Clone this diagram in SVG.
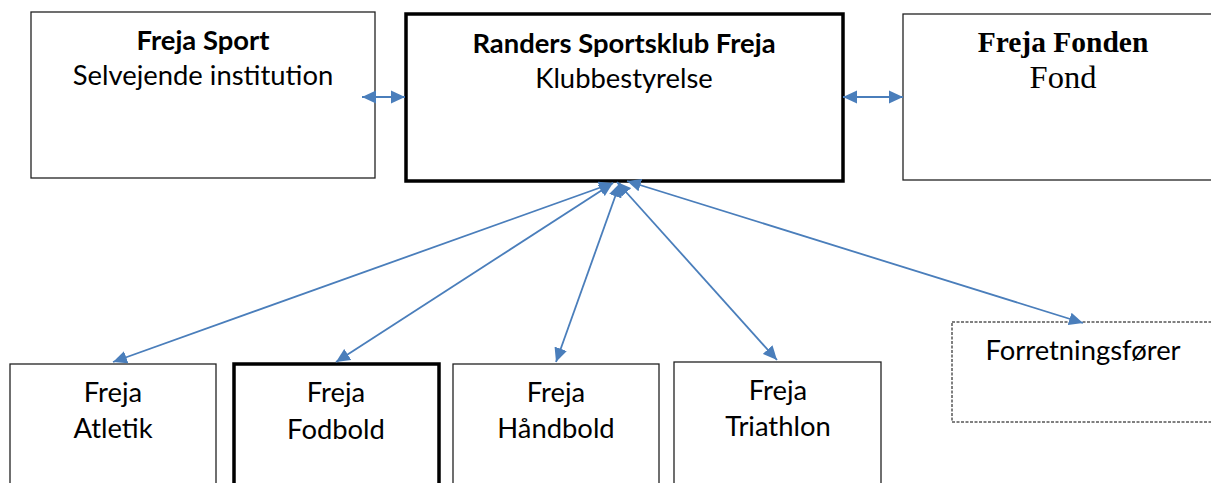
<svg xmlns="http://www.w3.org/2000/svg" width="1211" height="483" viewBox="0 0 1211 483">
<defs>
<style>
.box{fill:#fff;stroke:#222;stroke-width:1.3}
.thick{fill:#fff;stroke:#000;stroke-width:3.5}
.dash{fill:#fff;stroke:#000;stroke-width:1;stroke-dasharray:3 1.5}
.sans{font-family:Lato,"Liberation Sans",sans-serif;font-size:27.4px;fill:#000;text-anchor:middle}
.b{font-weight:bold}
.serif{font-family:"Liberation Serif","Times New Roman",serif;fill:#000;text-anchor:middle}
.conn{stroke:#4a7ebb;stroke-width:1.8;fill:none;marker-end:url(#ah);marker-start:url(#ah)}
</style>
<marker id="ah" markerUnits="userSpaceOnUse" markerWidth="16" markerHeight="14" refX="14" refY="7" orient="auto-start-reverse" viewBox="0 0 16 14">
<path d="M0,0.5 L14,7 L0,13.5 Z" fill="#4a7ebb"/>
</marker>
</defs>
<rect width="1211" height="483" fill="#fff"/>
<g id="freja-sport">
<rect class="box" x="31" y="12" width="344" height="166"/>
<text class="sans b" x="203" y="50">Freja Sport</text>
<text class="sans" x="203" y="85">Selvejende institution</text>
</g>
<g id="randers-sportsklub-freja">
<rect class="thick" x="406" y="14" width="437" height="167"/>
<text class="sans b" x="624" y="53">Randers Sportsklub Freja</text>
<text class="sans" x="624" y="88">Klubbestyrelse</text>
</g>
<g id="freja-fonden">
<rect class="box" x="903" y="14" width="320" height="166"/>
<text class="serif" x="1063" y="52" font-size="29.5" font-weight="bold">Freja Fonden</text>
<text class="serif" x="1063" y="88" font-size="32.5">Fond</text>
</g>
<g id="freja-atletik">
<rect class="box" x="10" y="364" width="206" height="150"/>
<text class="sans" x="113" y="402">Freja</text>
<text class="sans" x="113" y="438">Atletik</text>
</g>
<g id="freja-fodbold">
<rect class="thick" x="234" y="364" width="205" height="150"/>
<text class="sans" x="336" y="402">Freja</text>
<text class="sans" x="336" y="439">Fodbold</text>
</g>
<g id="freja-haandbold">
<rect class="box" x="453" y="364" width="206" height="150"/>
<text class="sans" x="556" y="402">Freja</text>
<text class="sans" x="556" y="438">Håndbold</text>
</g>
<g id="freja-triathlon">
<rect class="box" x="674" y="362" width="207" height="150"/>
<text class="sans" x="778" y="400">Freja</text>
<text class="sans" x="778" y="436">Triathlon</text>
</g>
<g id="forretningsfoerer">
<rect class="dash" x="952" y="322" width="262" height="100"/>
<text class="sans" x="1083" y="360">Forretningsfører</text>
</g>
<g id="connectors">
<line class="conn" x1="362" y1="97" x2="405" y2="97"/>
<line class="conn" x1="843" y1="97" x2="903" y2="97"/>
<line class="conn" x1="613" y1="183" x2="113" y2="362"/>
<line class="conn" x1="613" y1="183" x2="336" y2="362"/>
<line class="conn" x1="620" y1="183" x2="556" y2="362"/>
<line class="conn" x1="617" y1="182" x2="777" y2="360"/>
<line class="conn" x1="627" y1="181" x2="1083" y2="323"/>
</g>
</svg>
